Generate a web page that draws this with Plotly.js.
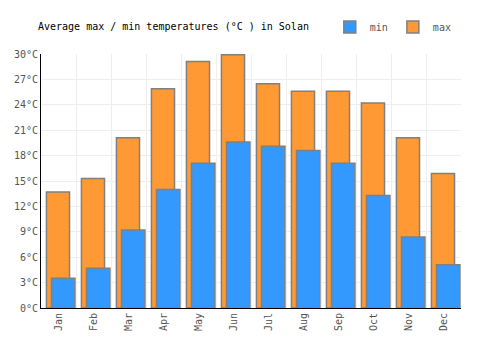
<!DOCTYPE html>
<html>
<head>
<meta charset="utf-8">
<script src="https://cdn.plot.ly/plotly-3.0.1.min.js"></script>
<style>html,body{margin:0;padding:0;background:#fff;}#chart{width:500px;height:350px;}</style>
</head>
<body>
<div id="chart"></div>
<script>
const months = ["Jan","Feb","Mar","Apr","May","Jun","Jul","Aug","Sep","Oct","Nov","Dec"];
const maxTemps = [13.7, 15.3, 20.1, 25.9, 29.1, 29.9, 26.5, 25.6, 25.6, 24.2, 20.1, 15.9];
const minTemps = [3.5, 4.7, 9.2, 14.0, 17.1, 19.6, 19.1, 18.6, 17.1, 13.3, 8.4, 5.1];
const yTicks = [0, 3, 6, 9, 12, 15, 18, 21, 24, 27, 30];

const font = "DejaVu Sans Mono, monospace";
const traces = [
  {
    type: "bar", name: "max", x: months, y: maxTemps,
    width: 0.66, offset: -0.345,
    marker: {color: "#ff9933", line: {color: "#808080", width: 1.5}},
    hoverinfo: "skip"
  },
  {
    type: "bar", name: "min", x: months, y: minTemps,
    width: 0.67, offset: -0.2,
    marker: {color: "#3399ff", line: {color: "#808080", width: 1.5}},
    hoverinfo: "skip"
  }
];
const layout = {
  width: 500, height: 350,
  margin: {l: 41, r: 39, t: 54, b: 42},
  paper_bgcolor: "#fff", plot_bgcolor: "#fff",
  barmode: "overlay",
  font: {family: font, size: 10, color: "#555"},
  title: {text: "Average max / min temperatures (°C ) in Solan", x: 0.076, xanchor: "left", y: 0.923, yanchor: "middle", font: {family: font, size: 10, color: "#000"}},
  showlegend: true,
  legend: {orientation: "h", traceorder: "reversed", x: 0.99, xanchor: "right", y: 1.106, yanchor: "middle", font: {family: font, size: 10, color: "#555"}, itemwidth: 30, bgcolor: "rgba(0,0,0,0)"},
  xaxis: {
    type: "category", tickson: "boundaries", ticks: "", tickangle: -90,
    showgrid: true, gridcolor: "#eeeeee", gridwidth: 1,
    showline: true, linecolor: "#000", linewidth: 1,
    tickfont: {family: font, size: 10, color: "#555"},
    range: [-0.5, 11.5], fixedrange: true
  },
  yaxis: {
    range: [0, 30], tickvals: yTicks, ticktext: yTicks.map(v => v + "°C"),
    ticks: "", showgrid: true, gridcolor: "#eeeeee", gridwidth: 1,
    zeroline: false, showline: true, linecolor: "#000", linewidth: 1,
    tickfont: {family: font, size: 10, color: "#555"}, fixedrange: true
  }
};
Plotly.newPlot("chart", traces, layout, {displayModeBar: false, staticPlot: true});
</script>
</body>
</html>
